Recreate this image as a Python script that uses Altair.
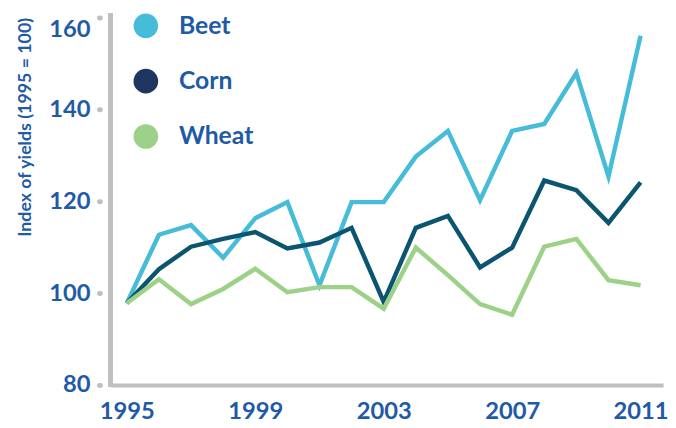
import altair as alt
import pandas as pd

years = list(range(1995, 2012))
beet = [97.8, 112.7, 114.8, 107.7, 116.3, 119.8, 101.7, 119.8, 119.8, 129.7,
        135.3, 120.2, 135.3, 136.8, 147.9, 125.4, 156.0]
corn = [97.8, 105.2, 110.1, 111.8, 113.3, 109.7, 111.0, 114.2, 98.1, 114.2,
        116.8, 105.6, 109.9, 124.5, 122.4, 115.3, 124.1]
wheat = [97.8, 103.0, 97.6, 100.9, 105.3, 100.2, 101.3, 101.3, 96.6, 109.9,
         103.9, 97.6, 95.3, 110.1, 111.8, 102.8, 101.7]

crops = ["Beet", "Corn", "Wheat"]
line_colors = ["#47BCD8", "#0B5570", "#9CD187"]
legend_colors = ["#47BCD8", "#1E3560", "#9CD187"]
x_ticks = [1995, 1999, 2003, 2007, 2011]
y_ticks = [80, 100, 120, 140, 160]

rows = []
for name, vals in zip(crops, [beet, corn, wheat]):
    for y, v in zip(years, vals):
        rows.append({"year": y, "crop": name, "value": v})
df = pd.DataFrame(rows)

W, H = 559, 372
FONT = "Lato"
BLUE = "#1F5AA6"
GRAY = "#BFBFBF"

x = alt.X("year:Q",
          scale=alt.Scale(domain=[1994.5, 2011.7], nice=False, zero=False),
          axis=alt.Axis(values=x_ticks, format="d", title=None, grid=False,
                        ticks=False, domain=True, domainColor=GRAY, domainWidth=4,
                        labelFont=FONT, labelFontSize=24, labelFontWeight="bold",
                        labelColor=BLUE, labelPadding=15, labelFlush=False))
y = alt.Y("value:Q",
          scale=alt.Scale(domain=[80, 160], nice=False, zero=False),
          axis=alt.Axis(values=y_ticks, title="Index of yields (1995 = 100)",
                        grid=False, domain=False, offset=11,
                        tickSize=1, tickWidth=5, tickCap="round", tickColor=GRAY,
                        labelFont=FONT, labelFontSize=24, labelFontWeight="bold",
                        labelColor=BLUE, labelPadding=9,
                        labelBaseline=alt.expr("datum.value == 160 ? 'top' : 'middle'"),
                        titleFont=FONT, titleFontSize=18, titleFontWeight="bold",
                        titleColor=BLUE, titleAnchor="end", titlePadding=14))

lines = alt.Chart(df).mark_line(strokeWidth=4.5, strokeJoin="miter").encode(
    x=x, y=y,
    color=alt.Color("crop:N", scale=alt.Scale(domain=crops, range=line_colors),
                    legend=None),
)

legend_pts = alt.Chart(df).mark_point(filled=True, opacity=0).encode(
    x=x, y=y,
    color=alt.Color("crop:N", scale=alt.Scale(domain=crops, range=legend_colors),
                    legend=alt.Legend(title=None, orient="none", legendX=23, legendY=-4,
                                      symbolType="circle", symbolSize=620,
                                      symbolOpacity=1, symbolStrokeWidth=0,
                                      rowPadding=30, labelOffset=21,
                                      labelFont=FONT, labelFontSize=25,
                                      labelFontWeight="bold", labelColor=BLUE)),
)

yaxis_line = alt.Chart(df).mark_rule(color=GRAY, strokeWidth=4).encode(
    x=alt.value(0), y=alt.value(-4), y2=alt.value(H + 2))

chart = alt.layer(yaxis_line, lines, legend_pts).resolve_scale(
    color="independent"
).properties(
    width=W, height=H,
    autosize=alt.AutoSizeParams(type="none"),
    padding={"left": 104, "top": 7, "right": 5, "bottom": 41},
).configure_view(stroke=None)

chart.save("out.html", embed_options={"renderer": "svg", "actions": False})
